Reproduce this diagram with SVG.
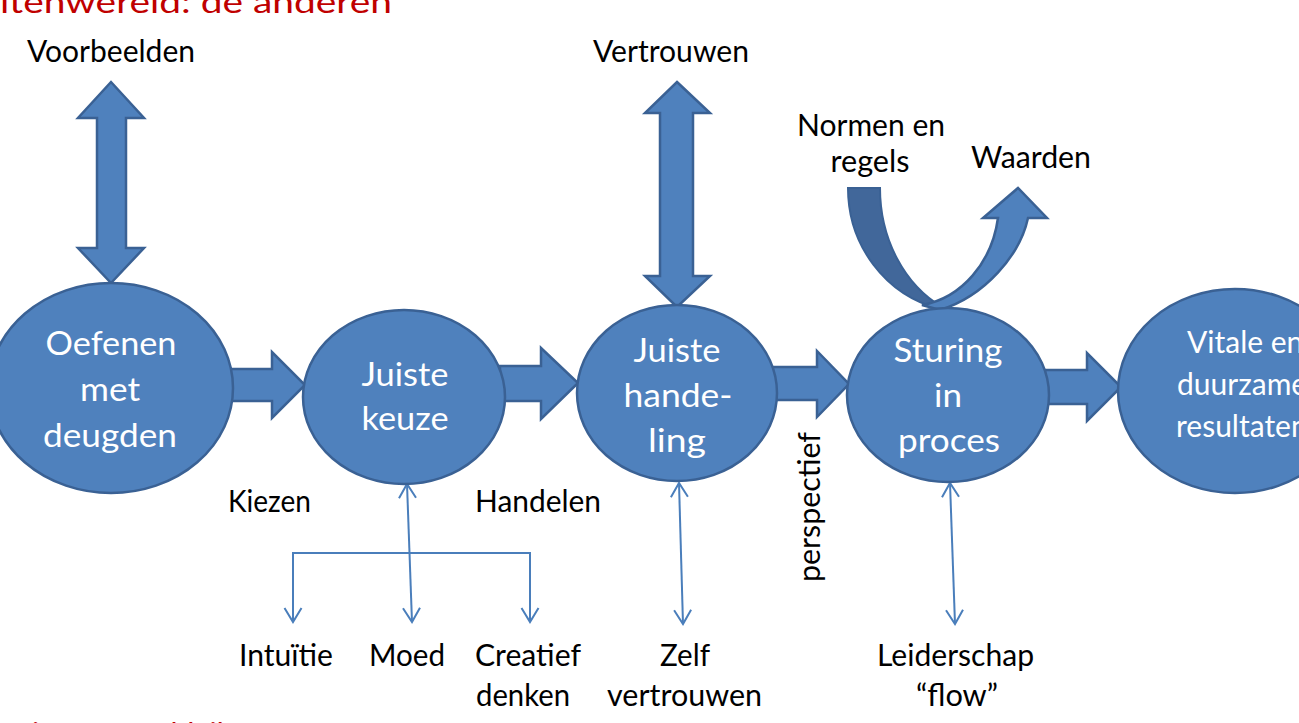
<svg xmlns="http://www.w3.org/2000/svg" width="1299" height="723" viewBox="0 0 1299 723">
<style>
.blk{fill:#4F81BD;stroke:#3A6194;stroke-width:2.5;stroke-linejoin:miter}
.ell{fill:#4F81BD;stroke:#3A6194;stroke-width:2.5}
.lbl{font-family:Lato,"Liberation Sans",sans-serif;font-size:30px;fill:#000;text-anchor:middle}
.in{font-family:Lato,"Liberation Sans",sans-serif;font-size:32px;fill:#fff;text-anchor:middle}
.in5{font-family:Lato,"Liberation Sans",sans-serif;font-size:30px;fill:#fff}
.red{font-family:Lato,"Liberation Sans",sans-serif;font-size:30px;fill:#C00000}
.thin{fill:none;stroke:#4A7EBB;stroke-width:2}
</style>
<defs>
<marker id="ah" viewBox="-16 -10 18 20" refX="0" refY="0" markerWidth="18" markerHeight="20" markerUnits="userSpaceOnUse" orient="auto-start-reverse">
<path d="M-14,-8.5 L0,0 L-14,8.5" fill="none" stroke="#4A7EBB" stroke-width="2"/>
</marker>
</defs>
<rect width="1299" height="723" fill="#fff"/>
<text class="red" y="13"><tspan x="0" text-anchor="end">Bu</tspan><tspan x="0" textLength="392" lengthAdjust="spacingAndGlyphs">itenwereld: de anderen</tspan></text>
<text class="red" x="232" y="745" text-anchor="end">Binnenwereld: ik</text>

<g id="connectors">
<path class="blk" d="M230,369 L272,369 L272,352 L305,385 L272,418 L272,401 L230,401 Z"/>
<path class="blk" d="M500,366 L541,366 L541,348 L578,383 L541,419 L541,401 L500,401 Z"/>
<path class="blk" d="M772,367 L817,367 L817,351 L849,384 L817,417 L817,400 L772,400 Z"/>
<path class="blk" d="M1045,370 L1087,370 L1087,353 L1121,387 L1087,421 L1087,404 L1045,404 Z"/>
<path class="blk" d="M111,82 L144,118 L126,118 L126,248 L144,248 L111,283 L78,248 L97,248 L97,118 L78,118 Z"/>
<path class="blk" d="M677,82 L710,113 L693,113 L693,276 L710,276 L677,307 L645,276 L660,276 L660,113 L645,113 Z"/>
<path d="M848,188 L880,188 C880,240 905,285 942,307 L940,309 C885,295 848,245 848,188 Z" fill="#41679A" stroke="#3A6194" stroke-width="2"/>
<path class="blk" d="M940,310 C985,296 1020,255 1028,218 L1047,218 L1018,188 L983,218 L998,218 C992,262 962,298 922,305 Z"/>
<line class="thin" x1="407" y1="484" x2="412" y2="622" marker-start="url(#ah)" marker-end="url(#ah)"/>
<polyline class="thin" points="293,622 293,553 530,553 530,622" marker-start="url(#ah)" marker-end="url(#ah)"/>
<line class="thin" x1="679" y1="483" x2="683" y2="624" marker-start="url(#ah)" marker-end="url(#ah)"/>
<line class="thin" x1="950" y1="483" x2="955" y2="624" marker-start="url(#ah)" marker-end="url(#ah)"/>
</g>

<g id="n1">
<ellipse class="ell" cx="111" cy="388" rx="122" ry="105"/>
<text class="in" x="111" y="355" textLength="131" lengthAdjust="spacingAndGlyphs">Oefenen</text>
<text class="in" x="110" y="401" textLength="60" lengthAdjust="spacingAndGlyphs">met</text>
<text class="in" x="110" y="447" textLength="134" lengthAdjust="spacingAndGlyphs">deugden</text>
</g>
<g id="n2">
<ellipse class="ell" cx="404" cy="397" rx="101" ry="87"/>
<text class="in" x="405" y="386" textLength="87" lengthAdjust="spacingAndGlyphs">Juiste</text>
<text class="in" x="405" y="430" textLength="87" lengthAdjust="spacingAndGlyphs">keuze</text>
</g>
<g id="n3">
<ellipse class="ell" cx="677" cy="393" rx="100" ry="88"/>
<text class="in" x="677" y="362" textLength="87" lengthAdjust="spacingAndGlyphs">Juiste</text>
<text class="in" x="678" y="407" textLength="109" lengthAdjust="spacingAndGlyphs">hande-</text>
<text class="in" x="677" y="452" textLength="58" lengthAdjust="spacingAndGlyphs">ling</text>
</g>
<g id="n4">
<ellipse class="ell" cx="948" cy="395" rx="101" ry="87"/>
<text class="in" x="948" y="362" textLength="109" lengthAdjust="spacingAndGlyphs">Sturing</text>
<text class="in" x="948" y="407" textLength="28" lengthAdjust="spacingAndGlyphs">in</text>
<text class="in" x="949" y="452" textLength="102" lengthAdjust="spacingAndGlyphs">proces</text>
</g>
<g id="n5">
<ellipse class="ell" cx="1235" cy="391" rx="117" ry="102"/>
<text class="in5" x="1187" y="353">Vitale en</text>
<text class="in5" x="1177" y="395">duurzame</text>
<text class="in5" x="1176" y="437">resultaten</text>
</g>

<g id="labels">
<text class="lbl" x="111" y="62" textLength="168" lengthAdjust="spacingAndGlyphs">Voorbeelden</text>
<text class="lbl" x="671" y="62" textLength="156" lengthAdjust="spacingAndGlyphs">Vertrouwen</text>
<text class="lbl" x="871" y="136" textLength="148" lengthAdjust="spacingAndGlyphs">Normen en</text>
<text class="lbl" x="870" y="172" textLength="79" lengthAdjust="spacingAndGlyphs">regels</text>
<text class="lbl" x="1031" y="168" textLength="120" lengthAdjust="spacingAndGlyphs">Waarden</text>
<text class="lbl" x="269.5" y="512" textLength="83" lengthAdjust="spacingAndGlyphs">Kiezen</text>
<text class="lbl" x="538" y="512" textLength="126" lengthAdjust="spacingAndGlyphs">Handelen</text>
<text class="lbl" transform="translate(820,507) rotate(-90)" x="0" y="0" textLength="150" lengthAdjust="spacingAndGlyphs">perspectief</text>
<text class="lbl" x="286" y="666" textLength="94" lengthAdjust="spacingAndGlyphs">Intuïtie</text>
<text class="lbl" x="407" y="666" textLength="76" lengthAdjust="spacingAndGlyphs">Moed</text>
<text class="lbl" x="475" y="666" style="text-anchor:start" textLength="106" lengthAdjust="spacingAndGlyphs">Creatief</text>
<text class="lbl" x="476" y="706" style="text-anchor:start" textLength="94" lengthAdjust="spacingAndGlyphs">denken</text>
<text class="lbl" x="685" y="666" textLength="50" lengthAdjust="spacingAndGlyphs">Zelf</text>
<text class="lbl" x="684.5" y="706" textLength="155" lengthAdjust="spacingAndGlyphs">vertrouwen</text>
<text class="lbl" x="955.5" y="666" textLength="157" lengthAdjust="spacingAndGlyphs">Leiderschap</text>
<text class="lbl" x="957" y="706" textLength="82" lengthAdjust="spacingAndGlyphs">“flow”</text>
</g>
</svg>
